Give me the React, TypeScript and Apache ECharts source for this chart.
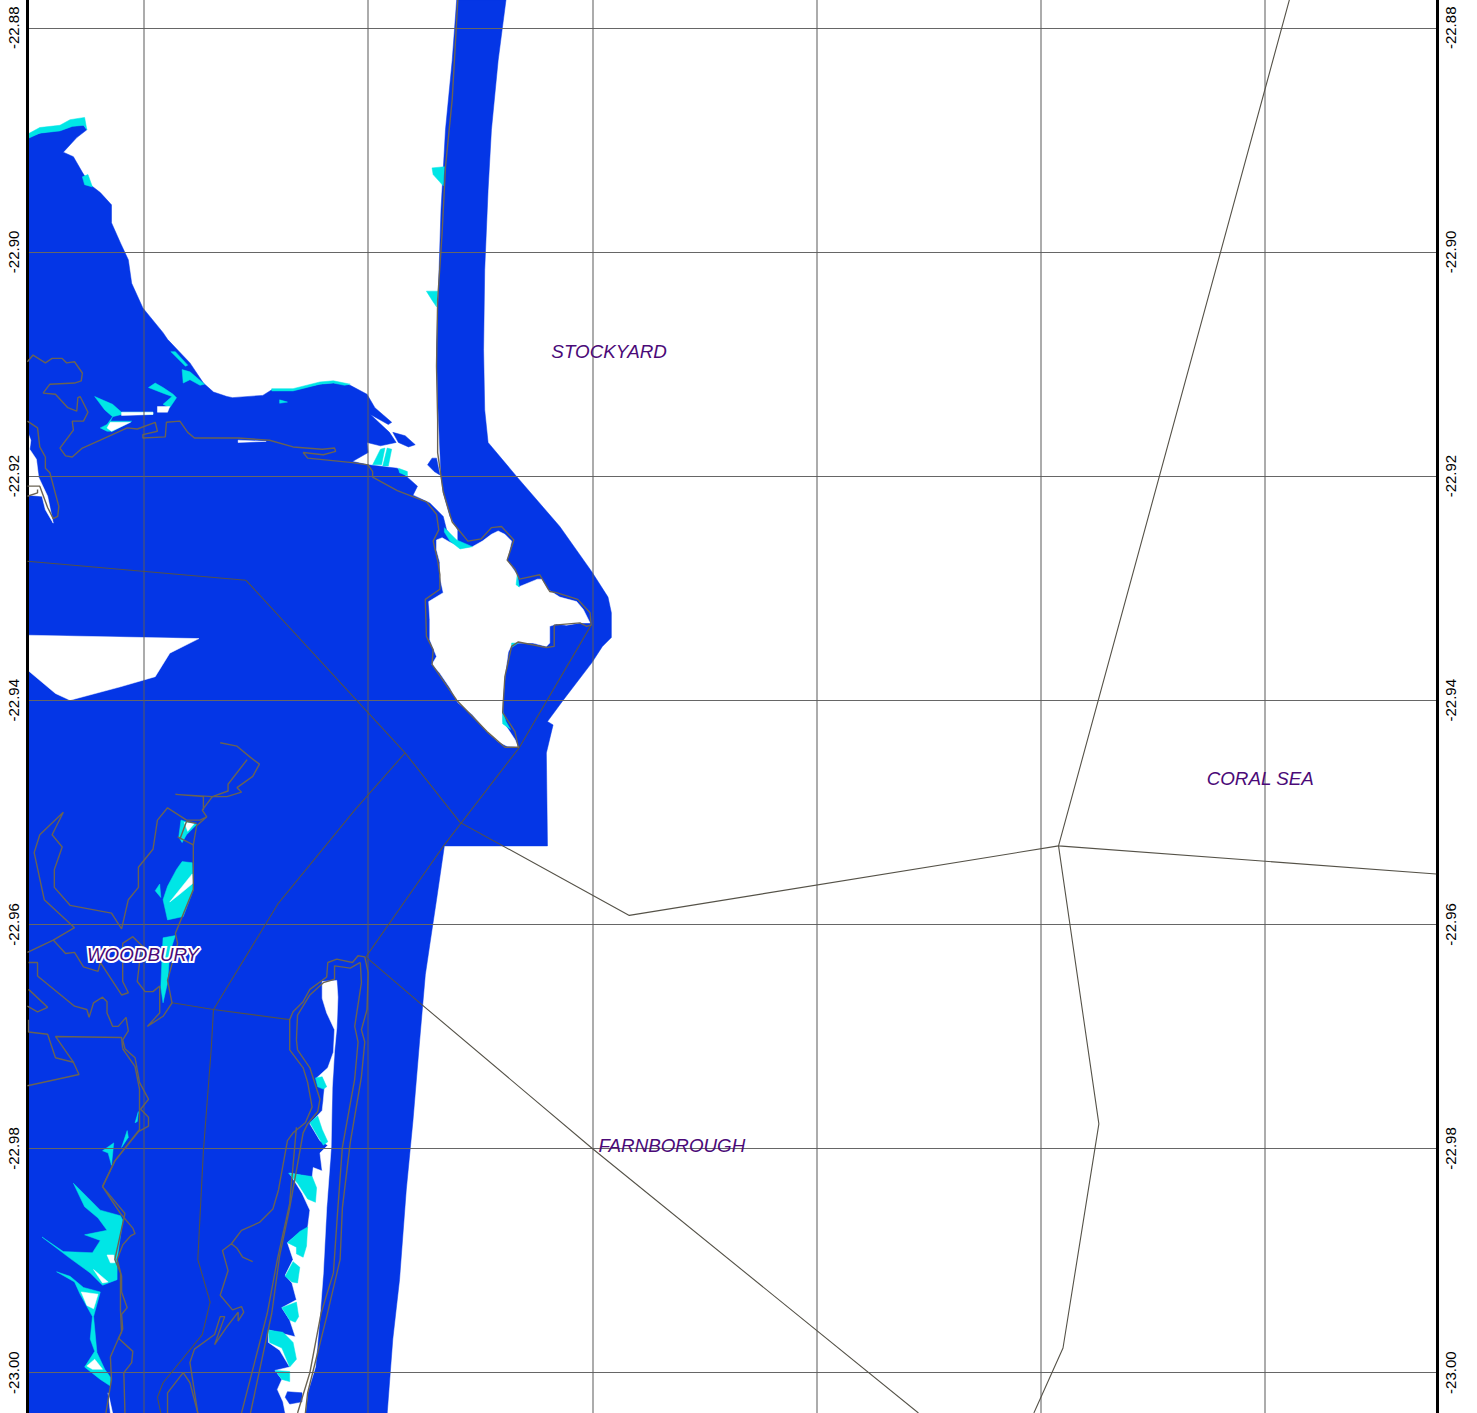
import React, { useEffect, useRef } from "react";
import * as echarts from "echarts";

type P = [number, number];

const latTicks = [-22.88, -22.9, -22.92, -22.94, -22.96, -22.98, -23.0];
const lonTicks = [150.76, 150.78, 150.8, 150.82, 150.84, 150.86];
const LON_MIN = 150.74956;
const LON_MAX = 150.87537;
const LAT_MIN = -23.0036;
const LAT_MAX = -22.87752;

const waterBody: P[] = [
[150.7496,-22.8898],[150.7507,-22.8894],[150.7525,-22.8891],[150.7536,-22.8887],[150.7546,-22.8887],[150.7549,-22.8891],[150.7540,-22.8898],[150.7528,-22.8911],[150.7537,-22.8915],[150.7545,-22.8929],[150.7552,-22.8940],[150.7561,-22.8947],[150.7571,-22.8958],[150.7571,-22.8974],[150.7579,-22.8992],[150.7586,-22.9007],[150.7589,-22.9028],[150.7599,-22.9050],[150.7617,-22.9072],[150.7621,-22.9078],[150.7641,-22.9099],[150.7653,-22.9117],[150.7662,-22.9125],[150.7674,-22.9129],[150.7679,-22.9130],[150.7706,-22.9128],[150.7714,-22.9123],[150.7733,-22.9123],[150.7757,-22.9118],[150.7769,-22.9117],[150.7784,-22.9119],[150.7799,-22.9127],[150.7806,-22.9139],[150.7821,-22.9152],[150.7818,-22.9154],[150.7802,-22.9145],[150.7819,-22.9161],[150.7825,-22.9170],[150.7811,-22.9173],[150.7799,-22.9170],[150.7800,-22.9179],[150.7786,-22.9187],[150.7800,-22.9190],[150.7826,-22.9193],[150.7835,-22.9201],[150.7844,-22.9209],[150.7840,-22.9217],[150.7855,-22.9224],[150.7867,-22.9236],[150.7870,-22.9248],[150.7880,-22.9261],
[150.7880,-22.9248],[150.7873,-22.9236],[150.7867,-22.9215],[150.7865,-22.9200],[150.7862,-22.9132],[150.7861,-22.9087],[150.7863,-22.9025],[150.7865,-22.8962],[150.7869,-22.8891],[150.7875,-22.8829],[150.7879,-22.8775],
[150.7923,-22.8775],[150.7916,-22.8829],[150.7910,-22.8891],[150.7907,-22.8945],[150.7904,-22.9016],[150.7903,-22.9087],[150.7904,-22.9141],[150.7907,-22.9170],[150.7933,-22.9201],[150.7971,-22.9245],[150.8000,-22.9286],[150.8014,-22.9308],[150.8017,-22.9322],[150.8017,-22.9344],[150.8009,-22.9352],[150.8000,-22.9366],[150.7974,-22.9400],[150.7960,-22.9419],[150.7965,-22.9422],[150.7959,-22.9447],[150.7960,-22.9530],[150.7868,-22.9530],[150.7861,-22.9578],[150.7855,-22.9618],[150.7851,-22.9645],[150.7846,-22.9703],[150.7840,-22.9775],[150.7834,-22.9837],[150.7828,-22.9917],[150.7822,-22.9970],[150.7817,-23.0036],[150.7496,-23.0036],
];

const bayWhite: P[] = [[150.7496,-22.9342],[150.7649,-22.9345],[150.7623,-22.9358],[150.7610,-22.9379],[150.7579,-22.9388],[150.7534,-22.9400],[150.7521,-22.9394],[150.7496,-22.9373]];
const leftWhite: P[] = [[150.7496,-22.9160],[150.7499,-22.9168],[150.7498,-22.9176],[150.7504,-22.9185],[150.7506,-22.9201],[150.7514,-22.9218],[150.7519,-22.9242],[150.7512,-22.9230],[150.7509,-22.9218],[150.7496,-22.9217]];
const lagoonWhite: P[] = [
[150.7861,-22.9257],[150.7866,-22.9255],[150.7873,-22.9259],[150.7884,-22.9264],[150.7893,-22.9263],[150.7902,-22.9258],[150.7910,-22.9252],[150.7916,-22.9249],[150.7922,-22.9252],[150.7928,-22.9258],[150.7926,-22.9267],[150.7924,-22.9275],[150.7933,-22.9288],[150.7934,-22.9299],[150.7951,-22.9292],[150.7955,-22.9292],[150.7960,-22.9301],[150.7971,-22.9308],[150.7986,-22.9312],[150.7992,-22.9319],[150.7998,-22.9331],[150.7989,-22.9331],[150.7977,-22.9333],[150.7968,-22.9332],[150.7962,-22.9334],[150.7962,-22.9349],[150.7959,-22.9352],[150.7947,-22.9349],[150.7935,-22.9349],[150.7929,-22.9349],[150.7925,-22.9357],[150.7922,-22.9379],[150.7920,-22.9403],[150.7920,-22.9419],[150.7925,-22.9426],[150.7931,-22.9435],[150.7934,-22.9442],[150.7924,-22.9441],[150.7916,-22.9437],[150.7906,-22.9428],[150.7893,-22.9413],[150.7880,-22.9402],[150.7873,-22.9389],[150.7864,-22.9376],[150.7857,-22.9368],[150.7861,-22.9361],[150.7855,-22.9346],[150.7855,-22.9328],[150.7854,-22.9312],[150.7867,-22.9304],[150.7864,-22.9290],[150.7864,-22.9277],[150.7861,-22.9266],
];
const barrierWhite: P[] = [
[150.7772,-22.9650],[150.7773,-22.9665],[150.7772,-22.9692],[150.7770,-22.9713],[150.7768,-22.9746],[150.7767,-22.9799],[150.7763,-22.9853],[150.7760,-22.9911],[150.7757,-22.9950],[150.7753,-22.9995],[150.7746,-23.0018],[150.7744,-23.0036],
[150.7726,-23.0036],[150.7724,-23.0026],[150.7719,-23.0015],[150.7723,-23.0006],[150.7717,-22.9998],[150.7730,-22.9995],[150.7721,-22.9980],[150.7711,-22.9973],[150.7711,-22.9962],[150.7735,-22.9968],[150.7730,-22.9953],[150.7723,-22.9942],[150.7736,-22.9935],[150.7732,-22.9920],[150.7726,-22.9913],[150.7733,-22.9899],[150.7728,-22.9884],[150.7739,-22.9875],[150.7746,-22.9871],[150.7748,-22.9855],[150.7741,-22.9840],[150.7730,-22.9822],[150.7750,-22.9826],[150.7751,-22.9817],[150.7759,-22.9820],[150.7757,-22.9804],[150.7764,-22.9797],[150.7757,-22.9793],[150.7748,-22.9778],[150.7759,-22.9766],[150.7760,-22.9757],[150.7761,-22.9746],[150.7754,-22.9737],[150.7764,-22.9728],[150.7769,-22.9714],[150.7770,-22.9694],[150.7763,-22.9679],[150.7759,-22.9666],[150.7759,-22.9651],
];

const blueIslets: P[][] = [
[[150.7822,-22.9161],[150.7833,-22.9164],[150.7842,-22.9172],[150.7836,-22.9174],[150.7827,-22.9170]],
[[150.7857,-22.9184],[150.7861,-22.9184],[150.7864,-22.9199],[150.7859,-22.9196],[150.7853,-22.9190]],
[[150.7728,-23.0017],[150.7741,-23.0018],[150.7741,-23.0026],[150.7730,-23.0028],[150.7726,-23.0022]],
];

const cyanPatches: P[][] = [
[[150.7496,-22.8895],[150.7507,-22.8889],[150.7525,-22.8887],[150.7534,-22.8882],[150.7547,-22.8880],[150.7549,-22.8891],[150.7546,-22.8887],[150.7536,-22.8888],[150.7525,-22.8892],[150.7507,-22.8894],[150.7496,-22.8899]],
[[150.7545,-22.8933],[150.7550,-22.8931],[150.7554,-22.8942],[150.7547,-22.8940]],
[[150.7624,-22.9089],[150.7628,-22.9089],[150.7639,-22.9101],[150.7637,-22.9102]],
[[150.7634,-22.9105],[150.7641,-22.9107],[150.7654,-22.9118],[150.7650,-22.9119],[150.7641,-22.9114],[150.7635,-22.9117]],
[[150.7604,-22.9121],[150.7610,-22.9117],[150.7617,-22.9121],[150.7626,-22.9127],[150.7629,-22.9130],[150.7623,-22.9139],[150.7617,-22.9136],[150.7625,-22.9129],[150.7617,-22.9126]],
[[150.7556,-22.9129],[150.7572,-22.9136],[150.7580,-22.9143],[150.7608,-22.9143],[150.7608,-22.9145],[150.7580,-22.9145],[150.7572,-22.9147],[150.7570,-22.9151],[150.7589,-22.9151],[150.7572,-22.9160],[150.7567,-22.9160],[150.7561,-22.9157],[150.7567,-22.9154],[150.7572,-22.9147],[150.7565,-22.9141]],
[[150.7714,-22.9122],[150.7733,-22.9122],[150.7757,-22.9116],[150.7769,-22.9115],[150.7784,-22.9118],[150.7779,-22.9119],[150.7769,-22.9117],[150.7757,-22.9118],[150.7733,-22.9124],[150.7714,-22.9124]],
[[150.7721,-22.9132],[150.7728,-22.9134],[150.7721,-22.9135]],
[[150.7857,-22.8925],[150.7868,-22.8924],[150.7867,-22.8941],[150.7858,-22.8931]],
[[150.7852,-22.9035],[150.7862,-22.9035],[150.7861,-22.9049],[150.7857,-22.9043]],
[[150.7811,-22.9176],[150.7815,-22.9175],[150.7812,-22.9190],[150.7804,-22.9190]],
[[150.7817,-22.9175],[150.7821,-22.9176],[150.7818,-22.9191],[150.7813,-22.9191]],
[[150.7827,-22.9193],[150.7835,-22.9196],[150.7835,-22.9200],[150.7828,-22.9197]],
[[150.7868,-22.9246],[150.7879,-22.9257],[150.7893,-22.9263],[150.7882,-22.9265],[150.7873,-22.9258],[150.7868,-22.9250]],
[[150.7933,-22.9288],[150.7935,-22.9299],[150.7932,-22.9297]],
[[150.7928,-22.9349],[150.7934,-22.9349],[150.7928,-22.9353]],
[[150.7920,-22.9410],[150.7923,-22.9419],[150.7927,-22.9426],[150.7920,-22.9421]],
[[150.7634,-22.9544],[150.7643,-22.9545],[150.7644,-22.9569],[150.7635,-22.9593],[150.7621,-22.9596],[150.7619,-22.9587],[150.7617,-22.9578],[150.7621,-22.9566],[150.7629,-22.9551]],
[[150.7610,-22.9570],[150.7614,-22.9564],[150.7615,-22.9576]],
[[150.7617,-22.9612],[150.7628,-22.9610],[150.7623,-22.9625],[150.7621,-22.9652],[150.7617,-22.9670],[150.7615,-22.9656],[150.7616,-22.9632]],
[[150.7633,-22.9507],[150.7647,-22.9511],[150.7638,-22.9520],[150.7634,-22.9527],[150.7631,-22.9522]],
[[150.7753,-22.9737],[150.7759,-22.9736],[150.7763,-22.9745],[150.7760,-22.9747],[150.7755,-22.9745]],
[[150.7748,-22.9777],[150.7755,-22.9771],[150.7759,-22.9783],[150.7764,-22.9794],[150.7760,-22.9797],[150.7755,-22.9789]],
[[150.7729,-22.9822],[150.7736,-22.9823],[150.7750,-22.9825],[150.7754,-22.9835],[150.7753,-22.9848],[150.7746,-22.9845],[150.7737,-22.9831]],
[[150.7728,-22.9884],[150.7739,-22.9874],[150.7746,-22.9870],[150.7745,-22.9887],[150.7742,-22.9897],[150.7736,-22.9894],[150.7736,-22.9888]],
[[150.7726,-22.9914],[150.7733,-22.9901],[150.7739,-22.9906],[150.7737,-22.9920],[150.7732,-22.9919]],
[[150.7723,-22.9942],[150.7736,-22.9937],[150.7738,-22.9950],[150.7735,-22.9955],[150.7730,-22.9953]],
[[150.7711,-22.9962],[150.7724,-22.9964],[150.7733,-22.9973],[150.7736,-22.9988],[150.7730,-22.9995],[150.7723,-22.9978],[150.7712,-22.9973]],
[[150.7717,-22.9998],[150.7730,-22.9999],[150.7730,-23.0008],[150.7723,-23.0006]],
[[150.7537,-22.9831],[150.7550,-22.9844],[150.7561,-22.9855],[150.7579,-22.9860],[150.7581,-22.9864],[150.7576,-22.9899],[150.7576,-22.9917],[150.7563,-22.9922],[150.7552,-22.9911],[150.7534,-22.9898],[150.7509,-22.9879],[150.7528,-22.9892],[150.7554,-22.9893],[150.7561,-22.9882],[150.7547,-22.9877],[150.7567,-22.9873],[150.7559,-22.9862],[150.7547,-22.9852]],
[[150.7522,-22.9910],[150.7534,-22.9914],[150.7546,-22.9924],[150.7561,-22.9928],[150.7555,-22.9950],[150.7558,-22.9982],[150.7565,-22.9997],[150.7570,-23.0004],[150.7570,-23.0012],[150.7561,-23.0006],[150.7547,-22.9995],[150.7556,-22.9981],[150.7552,-22.9970],[150.7554,-22.9950],[150.7543,-22.9930],[150.7538,-22.9919]],
[[150.7563,-22.9802],[150.7573,-22.9795],[150.7571,-22.9815],[150.7568,-22.9804]],
[[150.7580,-22.9799],[150.7585,-22.9784],[150.7586,-22.9790]],
[[150.7592,-22.9777],[150.7595,-22.9767],[150.7594,-22.9776]],
];

const whiteSpots: P[][] = [
[[150.7580,-22.9143],[150.7608,-22.9143],[150.7608,-22.9145],[150.7580,-22.9146]],
[[150.7570,-22.9152],[150.7588,-22.9152],[150.7571,-22.9160],[150.7567,-22.9157]],
[[150.7612,-22.9138],[150.7623,-22.9138],[150.7621,-22.9143],[150.7612,-22.9143]],
[[150.7684,-22.9168],[150.7709,-22.9169],[150.7684,-22.9170]],
[[150.7623,-22.9580],[150.7643,-22.9555],[150.7644,-22.9563],[150.7632,-22.9573]],
[[150.7636,-22.9509],[150.7645,-22.9510],[150.7639,-22.9517]],
[[150.7567,-22.9895],[150.7573,-22.9895],[150.7574,-22.9902],[150.7570,-22.9902]],
[[150.7555,-22.9908],[150.7568,-22.9919],[150.7563,-22.9920]],
[[150.7544,-22.9928],[150.7559,-22.9930],[150.7555,-22.9943],[150.7549,-22.9940]],
[[150.7549,-22.9994],[150.7556,-22.9988],[150.7563,-22.9997],[150.7554,-22.9997]],
[[150.7568,-23.0018],[150.7572,-23.0036],[150.7570,-23.0036]],
];

const seaBoundaries: P[][] = [
[[150.8622,-22.8775],[150.8416,-22.9530],[150.8753,-22.9555]],
[[150.8416,-22.9530],[150.8033,-22.9592],[150.7882,-22.9509],[150.7833,-22.9447],[150.7691,-22.9293],[150.7496,-22.9276]],
[[150.8416,-22.9530],[150.8452,-22.9778],[150.8420,-22.9978],[150.8394,-23.0036]],
[[150.7999,-22.9333],[150.7935,-22.9442],[150.7868,-22.9529],[150.7798,-22.9629]],
[[150.7798,-22.9629],[150.7846,-22.9670],[150.8000,-22.9800],[150.8291,-23.0036]],
[[150.7833,-22.9447],[150.7788,-22.9498],[150.7720,-22.9581],[150.7662,-22.9676],[150.7730,-22.9685]],
[[150.7625,-22.9670],[150.7662,-22.9676],[150.7660,-22.9711],[150.7653,-22.9802],[150.7648,-22.9899],[150.7659,-22.9937],[150.7652,-22.9966],[150.7617,-23.0009],[150.7612,-23.0022],[150.7615,-23.0036]],
];

const riverLines: P[][] = [
[[150.7678,-22.9885],[150.7687,-22.9873],[150.7703,-22.9866],[150.7715,-22.9854],[150.7720,-22.9837],[150.7728,-22.9793],[150.7733,-22.9786],[150.7744,-22.9777],[150.7750,-22.9763],[150.7746,-22.9741],[150.7742,-22.9728],[150.7730,-22.9712],[150.7730,-22.9685],[150.7733,-22.9678],[150.7742,-22.9669],[150.7748,-22.9658],[150.7763,-22.9647],[150.7764,-22.9634],[150.7772,-22.9631],[150.7786,-22.9634],[150.7791,-22.9628],[150.7797,-22.9629],[150.7800,-22.9643],[150.7799,-22.9676],[150.7794,-22.9694],[150.7797,-22.9705],[150.7794,-22.9736],[150.7784,-22.9795],[150.7777,-22.9853],[150.7775,-22.9899],[150.7763,-22.9950],[150.7755,-22.9982],[150.7746,-23.0018],[150.7744,-23.0036]],
[[150.7793,-22.9634],[150.7794,-22.9652],[150.7788,-22.9691],[150.7791,-22.9705],[150.7788,-22.9738],[150.7777,-22.9799],[150.7773,-22.9853],[150.7769,-22.9911],[150.7758,-22.9947],[150.7748,-23.0000],[150.7737,-23.0036]],
[[150.7793,-22.9634],[150.7784,-22.9639],[150.7770,-22.9637],[150.7770,-22.9649],[150.7760,-22.9652],[150.7748,-22.9663],[150.7737,-22.9681],[150.7736,-22.9703],[150.7737,-22.9712],[150.7748,-22.9728],[150.7757,-22.9756],[150.7755,-22.9767],[150.7746,-22.9778],[150.7742,-22.9786],[150.7730,-22.9853],[150.7721,-22.9896],[150.7714,-22.9947],[150.7695,-23.0036]],
[[150.7736,-22.9781],[150.7730,-22.9849],[150.7719,-22.9899],[150.7710,-22.9947],[150.7687,-23.0036]],
[[150.7697,-22.9901],[150.7688,-22.9897],[150.7683,-22.9889],[150.7678,-22.9885],[150.7670,-22.9891],[150.7675,-22.9909],[150.7668,-22.9931],[150.7679,-22.9944],[150.7687,-22.9941],[150.7689,-22.9946],[150.7684,-22.9954],[150.7684,-22.9946],[150.7674,-22.9959],[150.7663,-22.9975],[150.7672,-22.9950],[150.7668,-22.9950],[150.7663,-22.9966],[150.7645,-22.9979],[150.7641,-22.9991],[150.7648,-23.0036]],
[[150.7621,-23.0036],[150.7621,-23.0018],[150.7635,-23.0000],[150.7641,-23.0009],[150.7648,-23.0036]],
[[150.7668,-22.9438],[150.7683,-22.9441],[150.7695,-22.9451],[150.7703,-22.9457],[150.7697,-22.9468],[150.7683,-22.9478],[150.7687,-22.9482],[150.7674,-22.9486],[150.7661,-22.9486],[150.7652,-22.9498],[150.7656,-22.9504],[150.7650,-22.9507],[150.7638,-22.9507],[150.7621,-22.9496],[150.7612,-22.9507],[150.7608,-22.9533],[150.7595,-22.9549],[150.7595,-22.9567],[150.7586,-22.9578],[150.7580,-22.9604],[150.7571,-22.9590],[150.7534,-22.9583],[150.7520,-22.9567],[150.7520,-22.9551],[150.7527,-22.9531],[150.7518,-22.9520],[150.7528,-22.9500],[150.7507,-22.9520],[150.7502,-22.9536],[150.7511,-22.9578],[150.7538,-22.9603],[150.7519,-22.9614],[150.7496,-22.9625]],
[[150.7692,-22.9453],[150.7675,-22.9475],[150.7675,-22.9481],[150.7661,-22.9486],[150.7628,-22.9484],[150.7653,-22.9486],[150.7653,-22.9498]],
[[150.7656,-22.9504],[150.7647,-22.9512],[150.7644,-22.9529],[150.7644,-22.9563],[150.7644,-22.9569],[150.7628,-22.9608],[150.7630,-22.9617],[150.7621,-22.9650],[150.7625,-22.9670],[150.7617,-22.9682],[150.7603,-22.9691],[150.7614,-22.9679],[150.7614,-22.9655],[150.7608,-22.9660],[150.7601,-22.9660],[150.7594,-22.9651],[150.7596,-22.9634],[150.7599,-22.9620],[150.7590,-22.9611],[150.7581,-22.9617],[150.7581,-22.9651],[150.7586,-22.9661],[150.7580,-22.9663],[150.7561,-22.9634],[150.7559,-22.9642],[150.7546,-22.9638],[150.7538,-22.9625],[150.7530,-22.9626],[150.7519,-22.9614]],
[[150.7497,-22.9634],[150.7505,-22.9634],[150.7505,-22.9646],[150.7538,-22.9673],[150.7549,-22.9676],[150.7551,-22.9683],[150.7555,-22.9670],[150.7563,-22.9665],[150.7567,-22.9669],[150.7567,-22.9679],[150.7572,-22.9691],[150.7577,-22.9691],[150.7584,-22.9683],[150.7586,-22.9695],[150.7581,-22.9703],[150.7583,-22.9711],[150.7592,-22.9719],[150.7596,-22.9741],[150.7604,-22.9756],[150.7597,-22.9765],[150.7604,-22.9772],[150.7604,-22.9780],[150.7595,-22.9785],[150.7574,-22.9811],[150.7563,-22.9834],[150.7579,-22.9858],[150.7590,-22.9871],[150.7592,-22.9876],[150.7588,-22.9878],[150.7581,-22.9886],[150.7576,-22.9899],[150.7580,-22.9914],[150.7580,-22.9928],[150.7585,-22.9942],[150.7580,-22.9948],[150.7581,-22.9961],[150.7577,-22.9970],[150.7570,-22.9986],[150.7571,-23.0006],[150.7566,-23.0036]],
[[150.7581,-22.9711],[150.7592,-22.9727],[150.7596,-22.9747],[150.7596,-22.9783],[150.7574,-22.9811],[150.7563,-22.9834],[150.7583,-22.9858],[150.7574,-22.9899],[150.7579,-22.9911],[150.7579,-22.9944],[150.7580,-22.9964],[150.7577,-22.9970]],
[[150.7577,-22.9969],[150.7590,-22.9981],[150.7589,-22.9991],[150.7582,-23.0000],[150.7583,-23.0036]],
[[150.7497,-22.9685],[150.7497,-22.9696],[150.7514,-22.9698],[150.7521,-22.9719],[150.7537,-22.9723],[150.7542,-22.9734],[150.7496,-22.9744]],
[[150.7537,-22.9723],[150.7521,-22.9700],[150.7580,-22.9701],[150.7581,-22.9711]],
[[150.7497,-22.9658],[150.7514,-22.9674],[150.7505,-22.9678],[150.7496,-22.9673]],
[[150.7496,-22.9098],[150.7501,-22.9092],[150.7512,-22.9099],[150.7518,-22.9095],[150.7527,-22.9095],[150.7531,-22.9099],[150.7538,-22.9098],[150.7545,-22.9108],[150.7544,-22.9115],[150.7538,-22.9117],[150.7516,-22.9118],[150.7510,-22.9126],[150.7521,-22.9127],[150.7532,-22.9139],[150.7540,-22.9142],[150.7541,-22.9130],[150.7543,-22.9129],[150.7550,-22.9143],[150.7546,-22.9151],[150.7536,-22.9151],[150.7537,-22.9159],[150.7525,-22.9175],[150.7530,-22.9182],[150.7536,-22.9183],[150.7545,-22.9175],[150.7561,-22.9168],[150.7585,-22.9157],[150.7594,-22.9158],[150.7610,-22.9152],[150.7612,-22.9160],[150.7599,-22.9163],[150.7599,-22.9166],[150.7619,-22.9165],[150.7620,-22.9152],[150.7632,-22.9151],[150.7639,-22.9161],[150.7645,-22.9166],[150.7684,-22.9166],[150.7712,-22.9168],[150.7733,-22.9174],[150.7759,-22.9176],[150.7770,-22.9175],[150.7771,-22.9178],[150.7760,-22.9181],[150.7742,-22.9179],[150.7746,-22.9184],[150.7786,-22.9188],[150.7800,-22.9190],[150.7804,-22.9196],[150.7804,-22.9201],[150.7826,-22.9213],[150.7852,-22.9223],[150.7861,-22.9234],[150.7863,-22.9248],[150.7858,-22.9258],[150.7862,-22.9275],[150.7864,-22.9288],[150.7864,-22.9301],[150.7851,-22.9310],[150.7852,-22.9343],[150.7858,-22.9355],[150.7857,-22.9368],[150.7879,-22.9400],[150.7906,-22.9428],[150.7922,-22.9442],[150.7934,-22.9442],[150.7931,-22.9428],[150.7920,-22.9411],[150.7922,-22.9379],[150.7928,-22.9352],[150.7934,-22.9348],[150.7959,-22.9353],[150.7966,-22.9352],[150.7966,-22.9333],[150.7989,-22.9331],[150.7995,-22.9334],[150.7999,-22.9333],[150.7998,-22.9322],[150.7987,-22.9310],[150.7968,-22.9304],[150.7962,-22.9303],[150.7953,-22.9288],[150.7935,-22.9292],[150.7931,-22.9283],[150.7924,-22.9275],[150.7930,-22.9257],[150.7919,-22.9245],[150.7910,-22.9246],[150.7901,-22.9256],[150.7889,-22.9258],[150.7875,-22.9241],[150.7867,-22.9214],[150.7862,-22.9179],[150.7862,-22.9150],[150.7861,-22.9102],[150.7862,-22.9043],[150.7866,-22.8983],[150.7869,-22.8924],[150.7875,-22.8864],[150.7880,-22.8775]],
[[150.7496,-22.9151],[150.7505,-22.9157],[150.7507,-22.9174],[150.7512,-22.9183],[150.7512,-22.9193],[150.7516,-22.9197],[150.7524,-22.9227],[150.7523,-22.9236],[150.7519,-22.9238],[150.7514,-22.9228],[150.7507,-22.9209],[150.7496,-22.9209]],
[[150.7496,-22.9218],[150.7505,-22.9215],[150.7505,-22.9212]],
[[150.7632,-22.9524],[150.7638,-22.9508],[150.7647,-22.9510]],
[[150.7630,-22.9522],[150.7644,-22.9529]],
];

const placeNames = ["STOCKYARD", "CORAL SEA", "FARNBOROUGH", "WOODBURY"];
const placeLon = [150.8015, 150.8596, 150.8071, 150.7599];
const placeLat = [-22.9089, -22.947, -22.9797, -22.9627];

const WATER = "#0436E6";
const CYAN = "#00E6E6";
const SEA_LINE = "#555248";
const RIVER_LINE = "#6A6353";
const PURPLE = "#4B0A78";

function polygonSeries(name: string, polys: P[][], fill: string, z: number) {
  return {
    type: "custom",
    name,
    z,
    silent: true,
    clip: true,
    coordinateSystem: "cartesian2d",
    data: polys.map((p) => p[0]),
    renderItem: (params: any, api: any) => ({
      type: "polygon",
      shape: { points: polys[params.dataIndex].map((p) => api.coord(p)) },
      style: { fill, stroke: fill, lineWidth: 0.5 },
    }),
  };
}

function lineSeries(polys: P[][], color: string, width: number) {
  return polys.map((data) => ({
    type: "line",
    data,
    z: 6,
    silent: true,
    showSymbol: false,
    symbol: "none",
    lineStyle: { color, width },
  }));
}

const labelFont = { fontFamily: "Liberation Sans", fontStyle: "italic", fontSize: 18.8, color: PURPLE, opacity: 1 };

export default function App() {
  const ref = useRef<HTMLDivElement>(null);
  useEffect(() => {
    document.body.style.margin = "0";
    const chart = echarts.init(ref.current!, undefined, { renderer: "svg" });
    const yBase = {
      type: "value",
      min: LAT_MIN,
      max: LAT_MAX,
      z: 5,
      axisLine: { show: true, onZero: false, lineStyle: { color: "#000", width: 3 } },
      axisTick: { show: false, customValues: latTicks },
      axisLabel: {
        show: true,
        customValues: latTicks,
        rotate: 90,
        margin: 6,
        color: "#000",
        fontFamily: "Liberation Sans",
        fontSize: 15,
        hideOverlap: false,
        showMinLabel: true,
        showMaxLabel: true,
        formatter: (v: number) => v.toFixed(2),
      },
    };
    chart.setOption({
      animation: false,
      backgroundColor: "#fff",
      grid: { left: 27, top: 0, width: 1410, height: 1413, containLabel: false },
      xAxis: {
        type: "value",
        min: LON_MIN,
        max: LON_MAX,
        z: 5,
        axisLine: { show: false },
        axisLabel: { show: false },
        axisTick: { show: false, customValues: lonTicks },
        splitLine: { show: true, lineStyle: { color: "rgba(90,90,90,0.5)", width: 2 } },
      },
      yAxis: [
        { ...yBase, position: "left", splitLine: { show: true, lineStyle: { color: "#666", width: 1 } } },
        { ...yBase, position: "right", splitLine: { show: false } },
      ],
      series: [
        polygonSeries("water", [waterBody], WATER, 1),
        polygonSeries("dry", [bayWhite, leftWhite, lagoonWhite, barrierWhite], "#fff", 2),
        polygonSeries("islets", blueIslets, WATER, 3),
        polygonSeries("shallow", cyanPatches, CYAN, 3),
        polygonSeries("dry spots", whiteSpots, "#fff", 4),
        ...lineSeries(seaBoundaries, SEA_LINE, 1.1),
        ...lineSeries(riverLines, RIVER_LINE, 1.4),
        {
          type: "scatter",
          z: 8,
          silent: true,
          symbolSize: 1,
          itemStyle: { color: "transparent", opacity: 1 },
          data: placeNames.map((name, i) => ({
            value: [placeLon[i], placeLat[i]],
            label: {
              show: true,
              position: "inside",
              formatter: name,
              ...labelFont,
              ...(name === "WOODBURY" ? { textBorderColor: "#fff", textBorderWidth: 4 } : {}),
            },
          })),
        },
      ],
    });
    return () => chart.dispose();
  }, []);
  return <div ref={ref} style={{ position: "absolute", left: 0, top: 0, width: 1477, height: 1413 }} />;
}
